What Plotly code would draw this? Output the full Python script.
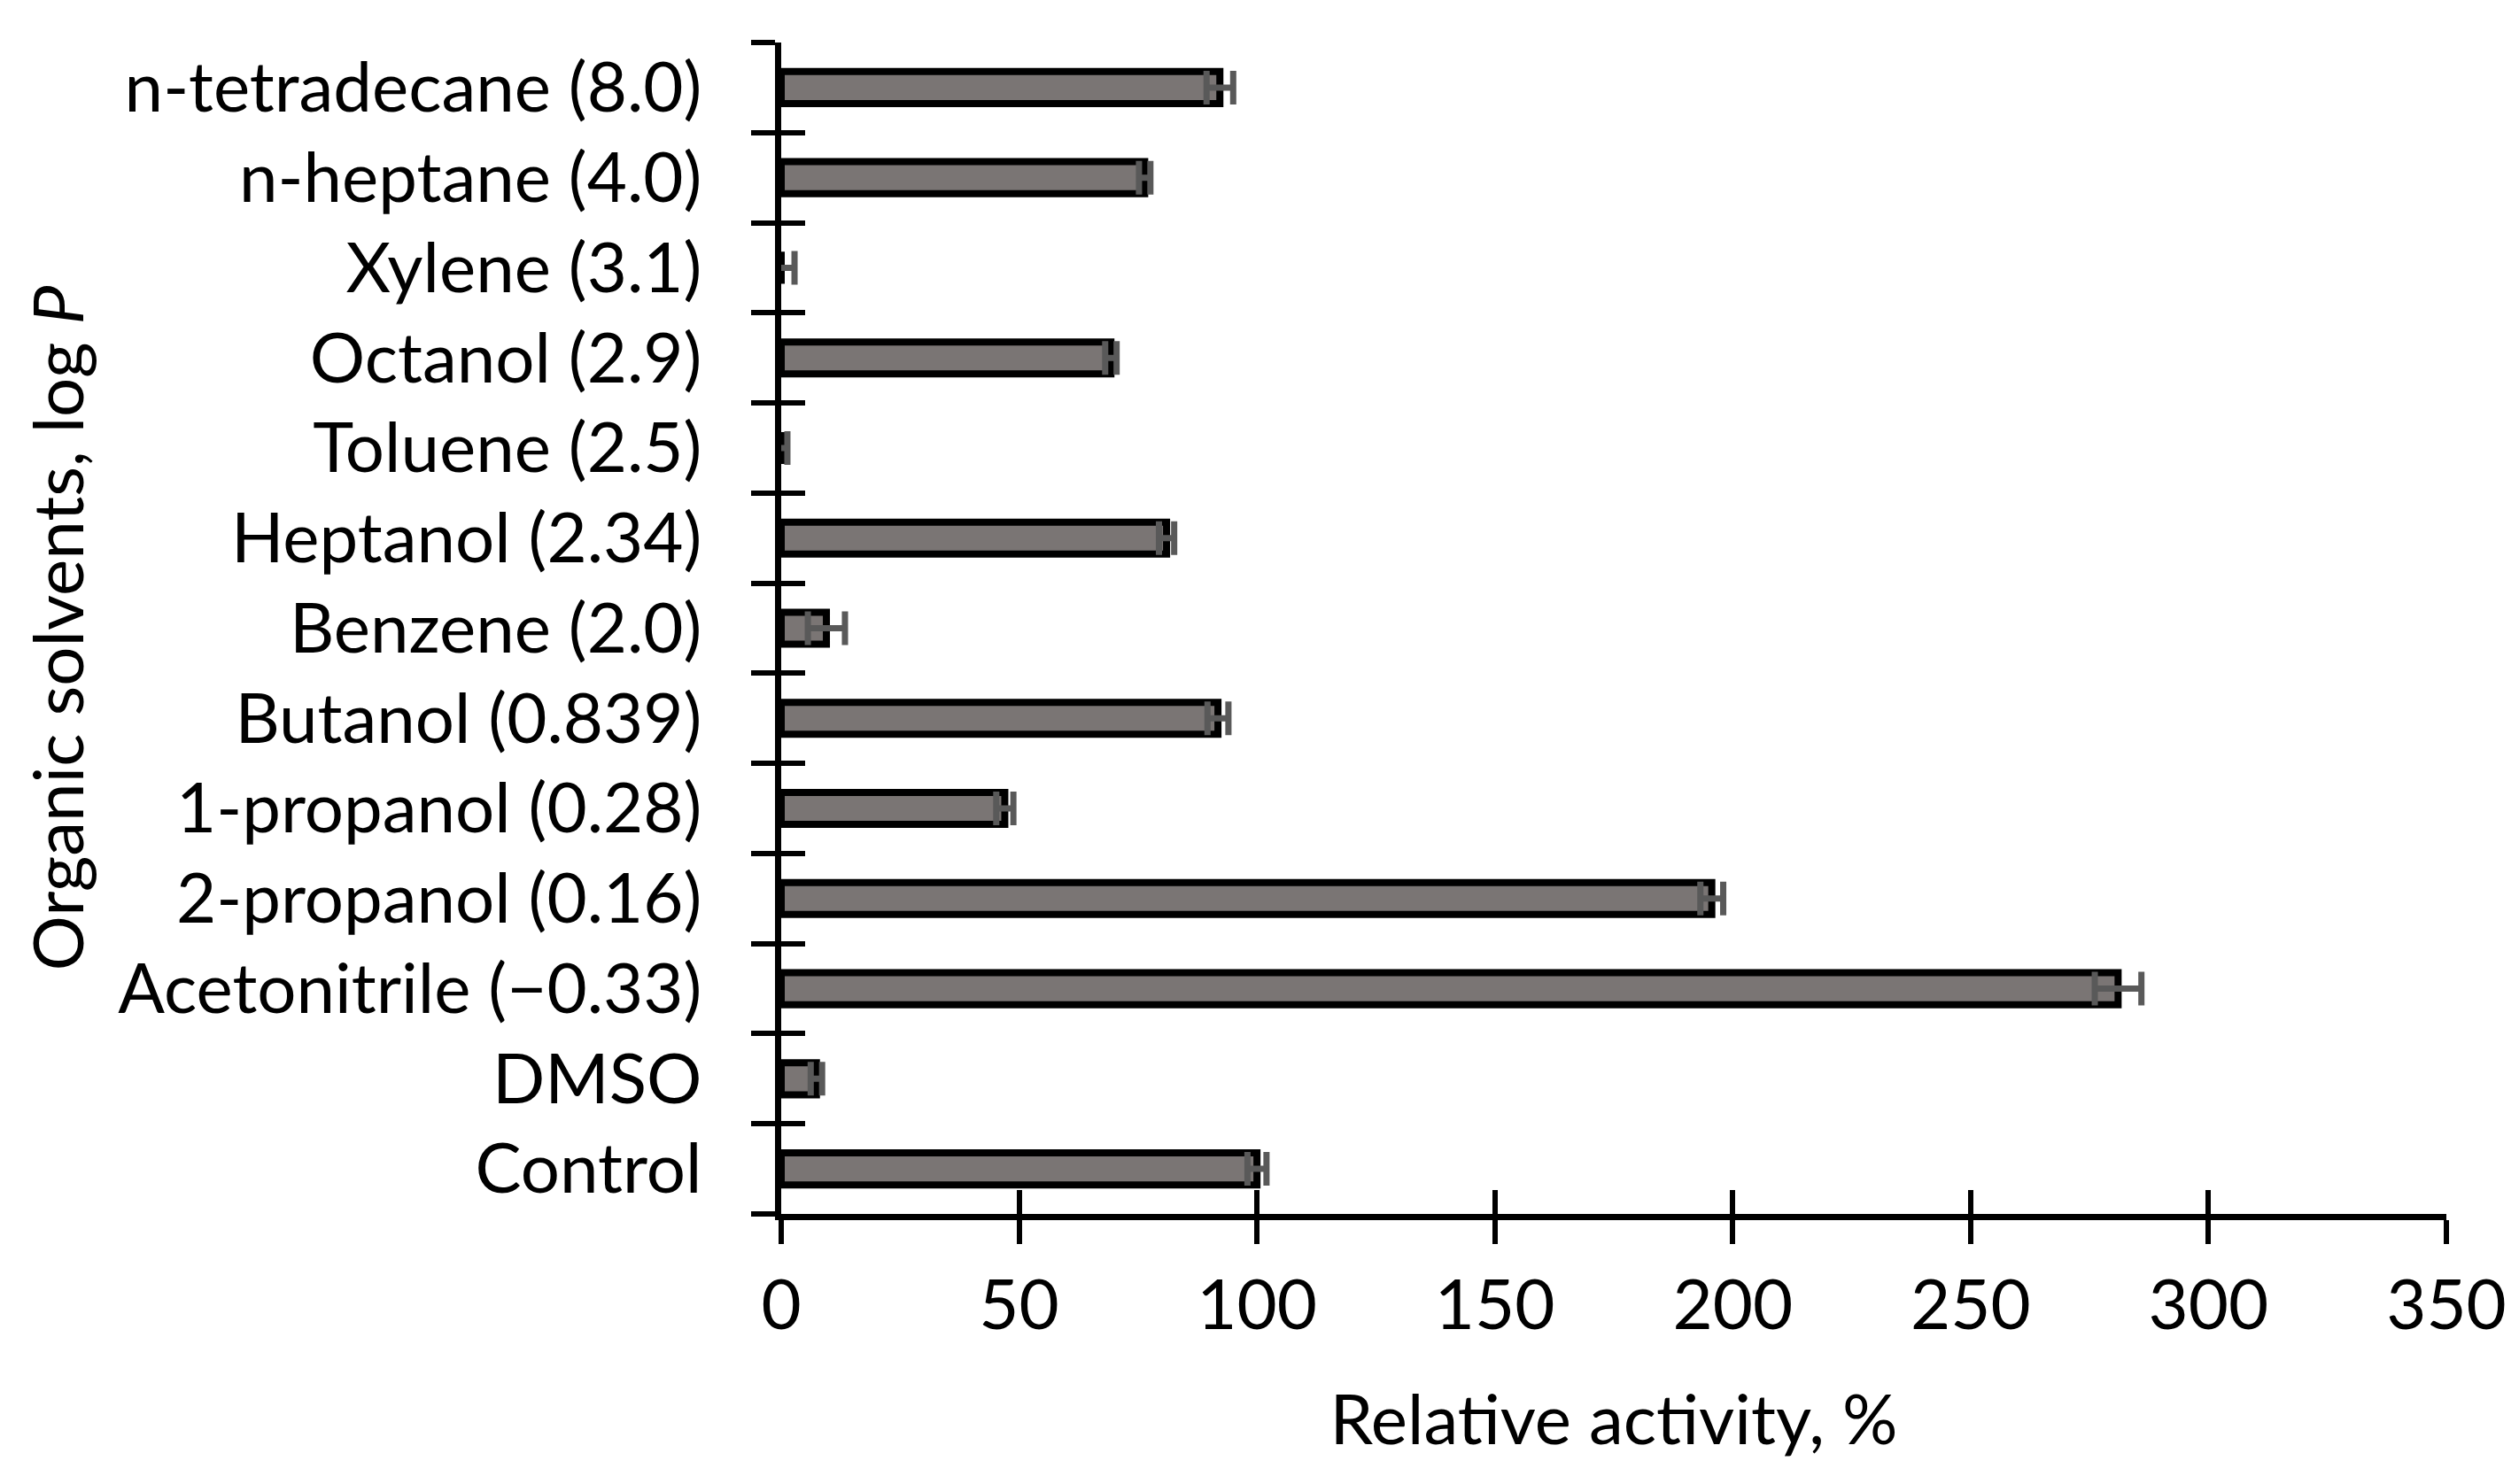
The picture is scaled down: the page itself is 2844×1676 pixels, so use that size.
import plotly.graph_objects as go

# Categories listed bottom-to-top (Plotly draws the first category at the bottom)
categories = [
    "Control",
    "DMSO",
    "Acetonitrile (\u22120.33)",
    "2-propanol (0.16)",
    "1-propanol (0.28)",
    "Butanol (0.839)",
    "Benzene (2.0)",
    "Heptanol (2.34)",
    "Toluene (2.5)",
    "Octanol (2.9)",
    "Xylene (3.1)",
    "n-heptane (4.0)",
    "n-tetradecane (8.0)",
]
activity = [100.0, 7.4, 281.0, 195.6, 47.0, 91.8, 9.5, 81.0, 0.0, 69.3, 0.0, 76.4, 92.2]
errors = [2.0, 1.2, 4.9, 2.4, 1.8, 2.2, 3.9, 1.6, 1.3, 1.2, 2.8, 1.2, 2.8]

x_ticks = [0, 50, 100, 150, 200, 250, 300, 350]
x_title = "Relative activity, %"
y_title = "Organic solvents, log <i>P</i>"

FONT = "Lato"
FS = 78

fig = go.Figure()
fig.add_trace(go.Bar(
    y=categories,
    x=activity,
    orientation="h",
    width=0.355,
    marker=dict(color="#7a7574", line=dict(color="black", width=8)),
    error_x=dict(type="data", array=errors, color="#595959", thickness=7, width=19),
    showlegend=False,
))
# invisible trace for the overlay axes that draw the inner half of the crossing ticks
fig.add_trace(go.Scatter(x=[None], y=[None], xaxis="x2", yaxis="y2",
                         mode="markers", showlegend=False, hoverinfo="skip"))

n = len(categories)
fig.update_layout(
    width=2844, height=1676,
    margin=dict(l=874, r=90, t=40, b=313),
    plot_bgcolor="white", paper_bgcolor="white",
    font=dict(family=FONT, size=FS, color="black"),
    xaxis=dict(
        range=[0, 350], tickvals=x_ticks, ticktext=[str(v) for v in x_ticks],
        showgrid=False, zeroline=False,
        showline=True, linecolor="black", linewidth=7,
        ticks="outside", ticklen=27, tickwidth=6, tickcolor="black",
        ticklabelstandoff=2,
        tickfont=dict(family=FONT, size=FS, color="black"),
        title=dict(text=x_title, font=dict(family=FONT, size=FS, color="black"), standoff=62),
    ),
    yaxis=dict(
        type="category", categoryorder="array", categoryarray=categories,
        range=[-0.5, n - 0.5],
        showgrid=False, zeroline=False,
        showline=True, linecolor="black", linewidth=7,
        ticks="outside", ticklen=27, tickwidth=6, tickcolor="black",
        tickson="boundaries",
        ticklabelstandoff=67,
        tickfont=dict(family=FONT, size=FS, color="black"),
        title=dict(text=y_title, font=dict(family=FONT, size=FS, color="black"), standoff=15),
    ),
    xaxis2=dict(
        overlaying="x", anchor="y2", side="bottom",
        range=[0, 350], tickvals=x_ticks, showticklabels=False,
        ticks="inside", ticklen=27, tickwidth=6, tickcolor="black",
        showgrid=False, zeroline=False, showline=False,
    ),
    yaxis2=dict(
        overlaying="y", anchor="x2", side="left",
        range=[-0.5, n - 0.5], tickvals=[k - 0.5 for k in range(n + 1)],
        showticklabels=False,
        ticks="inside", ticklen=27, tickwidth=6, tickcolor="black",
        showgrid=False, zeroline=False, showline=False,
    ),
)

fig.write_html("out.html")
